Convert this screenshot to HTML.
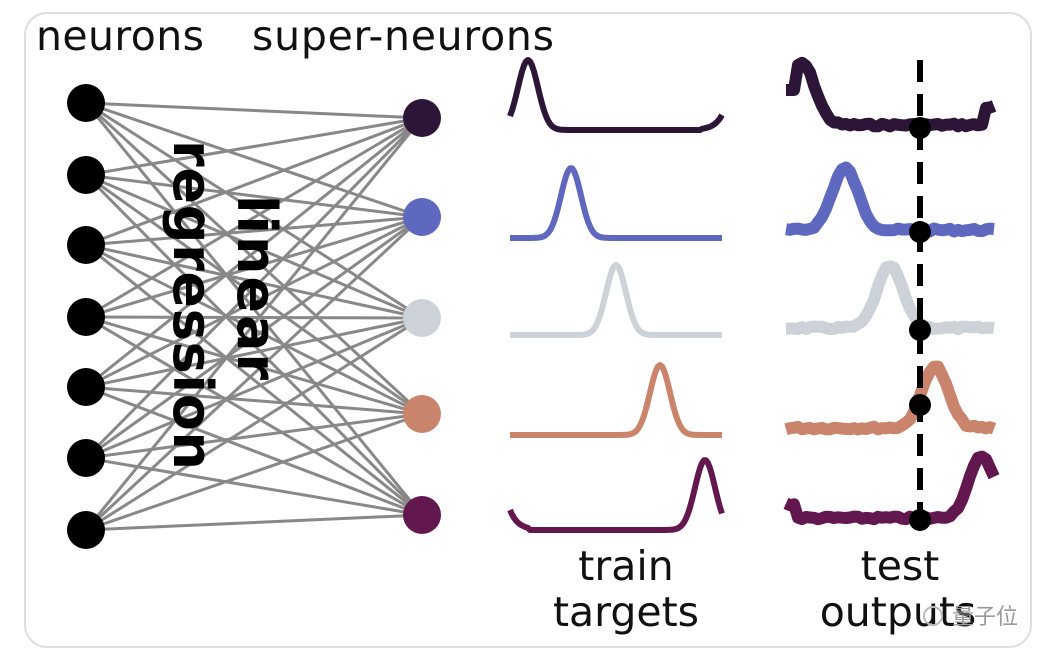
<!DOCTYPE html>
<html><head><meta charset="utf-8"><style>
html,body{margin:0;padding:0;background:#fff;}
svg{display:block;font-family:"DejaVu Sans","Liberation Sans",sans-serif;}
</style></head><body>
<svg id="s" width="1058" height="664" viewBox="0 0 1058 664" xmlns="http://www.w3.org/2000/svg">
<rect x="25" y="13" width="1006" height="634" rx="22" fill="#fff" stroke="#dedede" stroke-width="2"/>
<g id="edges" stroke="#888" stroke-width="3"></g>
<g id="nodes"></g>
<g id="curves" fill="none" stroke-linejoin="round"></g>
<text x="36" y="50" font-size="41" fill="#111" textLength="168">neurons</text>
<text x="252" y="50" font-size="41" fill="#111" textLength="302">super-neurons</text>
<g font-size="54" font-weight="bold" fill="#000">
<text transform="translate(174,140) rotate(90)" textLength="330">regression</text>
<text transform="translate(238,195) rotate(90)" textLength="185">linear</text>
</g>
<g font-size="41" fill="#111" text-anchor="middle">
<text x="626" y="580">train</text>
<text x="626" y="626">targets</text>
<text x="900" y="580">test</text>
<text x="898" y="626">outputs</text>
</g>
<text x="952" y="624" font-size="22" fill="#999" font-family="'Noto Sans CJK SC',sans-serif">量子位</text>
<circle cx="933" cy="616" r="9" fill="none" stroke="#bbb" stroke-width="2"/>
</svg>
<script>
var NS="http://www.w3.org/2000/svg";
function el(p,t,a){var e=document.createElementNS(NS,t);for(var k in a)e.setAttribute(k,a[k]);document.getElementById(p).appendChild(e);return e;}
var L=[103,175,245,317,387,458,530],R=[118,217,318,414,515];
var C=["#2d1537","#5f68bf","#cdd2d9","#c9846b","#62184f"];
L.forEach(function(a){R.forEach(function(b){el("edges","line",{x1:86,y1:a,x2:422,y2:b});});});
L.forEach(function(a){el("nodes","circle",{cx:86,cy:a,r:19,fill:"#000"});});
R.forEach(function(b,i){el("nodes","circle",{cx:422,cy:b,r:19,fill:C[i]});});
var tb=[130,238,335,435,530],tp=[528,571,616,660,705];
for(var i=0;i<5;i++){var d="";for(var x=510;x<=722;x+=2){var g=Math.exp(-Math.pow((x-tp[i])/10,2)/2);
var y=tb[i]-70*g;if(i==0&&x>700)y-=15*Math.exp((x-722)/8);if(i==4&&x<530)y-=20*Math.exp((510-x)/8);
d+=(d?"L":"M")+x+","+y.toFixed(1);}el("curves","path",{d:d,stroke:C[i],"stroke-width":6});}
var sb=[125,230,328,428,518],sp=[802,845,890,935,982];var seed=7;function rn(){seed=(seed*9301+49297)%233280;return seed/233280-0.5;}
for(var i=0;i<5;i++){var d="";for(var x=786;x<=996;x+=4){var g=Math.exp(-Math.pow((x-sp[i])/13,2)/2);
var y=sb[i]-62*g+rn()*3;if(i==0&&x>985)y-=18;if(i==4&&x<796)y-=14;if(i==0&&x<796)y=sb[0]-35;
d+=(d?"L":"M")+x+","+y.toFixed(1);}el("curves","path",{d:d,stroke:C[i],"stroke-width":12});}
el("curves","line",{x1:920,y1:60,x2:920,y2:528,stroke:"#000","stroke-width":6,"stroke-dasharray":"22 12"});
[128,232,330,405,520].forEach(function(y){el("curves","circle",{cx:920,cy:y,r:11,fill:"#000",stroke:"none"});});
</script>
</body></html>
